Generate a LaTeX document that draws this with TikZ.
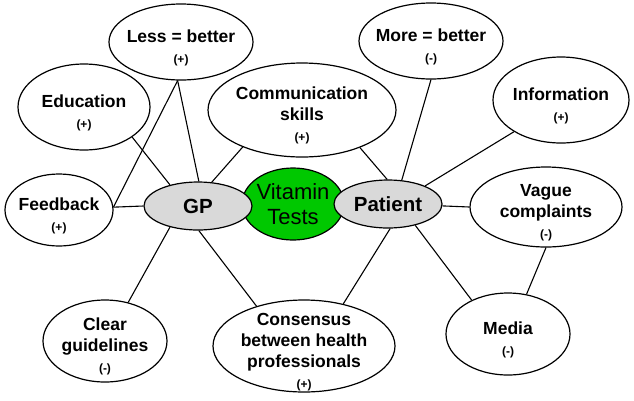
\documentclass[tikz,border=0pt]{standalone}
\usepackage{fontspec}
\setmainfont{Liberation Sans}
\usetikzlibrary{shapes.geometric}

\definecolor{gpgrey}{RGB}{217,217,217}
\definecolor{vitgreen}{RGB}{0,200,0}
\newcommand{\sgn}[1]{{\fontsize{12}{14}\selectfont(#1)}}
\newcommand{\lift}{\rule{0pt}{24pt}}

\begin{document}
\begin{tikzpicture}[x=1pt, y=-1pt,
    bub/.style={ellipse, draw=black, fill=white, line width=1.2pt, inner xsep=-10pt, inner ysep=-16pt, align=center,
      font=\fontsize{17.5}{21}\selectfont\bfseries},
    actor/.style={ellipse, draw=black, fill=gpgrey, line width=1.2pt, inner sep=0pt, minimum width=108pt, minimum height=48pt, font=\fontsize{20.5}{24}\selectfont\bfseries},
    link/.style={line width=1.1pt}]
    \useasboundingbox (0,0) rectangle (634,400);

    % centre
    \node[ellipse, draw=black, fill=vitgreen, line width=1.2pt, inner sep=-5pt, minimum width=102pt, minimum height=72pt, align=center, font=\fontsize{22}{25}\selectfont] (vit) at (293,204) {Vitamin\\Tests};
    \node[actor] (gp) at (198,206) {GP};
    \node[actor] (pat) at (388,204) {Patient};

    % factors
    \node[bub, minimum width=144pt, minimum height=76pt] (less) at (181,42) {\lift Less = better\\\sgn{+}};
    \node[bub, minimum width=132pt, minimum height=86pt] (edu) at (84,107) {\lift Education\\\sgn{+}};
    \node[bub, minimum width=188pt, minimum height=94pt] (comm) at (302,110) {\lift Communication\\skills\\\sgn{+}};
    \node[bub, minimum width=144pt, minimum height=76pt] (more) at (431,41) {\lift More = better\\\sgn{-}};
    \node[bub, minimum width=136pt, minimum height=86pt] (info) at (561,100) {\lift Information\\\sgn{+}};
    \node[bub, minimum width=152pt, minimum height=80pt] (vague) at (546,207) {\lift Vague\\complaints\\\sgn{-}};
    \node[bub, minimum width=108pt, minimum height=72pt] (feed) at (59,210) {\lift Feedback\\\sgn{+}};
    \node[bub, minimum width=124pt, minimum height=82pt] (clear) at (105,341) {\lift Clear\\guidelines\\\sgn{-}};
    \node[bub, minimum width=182pt, minimum height=92pt] (cons) at (304,346) {\lift Consensus\\between health\\professionals\\\sgn{+}};
    \node[bub, minimum width=124pt, minimum height=82pt] (media) at (508,334) {\lift Media\\\sgn{-}};

    \draw[link] (less.-95) -- (gp.88);
    \draw[link] (less.-95) -- (feed.3);
    \draw[link] (feed.3) -- (gp.180);
    \draw[link] (edu.-32) -- (gp.143);
    \draw[link] (comm.-148) -- (gp.60);
    \draw[link] (gp.-143) -- (clear.59);
    \draw[link] (gp.-88) -- (cons.140);
    \draw[link] (comm.-33) -- (pat.92);
    \draw[link] (more.-90) -- (pat.60);
    \draw[link] (info.-146) -- (pat.26);
    \draw[link] (pat.-2) -- (vague.180);
    \draw[link] (pat.-38) -- (media.137);
    \draw[link] (pat.-85) -- (cons.47);
    \draw[link] (vague.-90) -- (media.65);
\end{tikzpicture}
\end{document}
